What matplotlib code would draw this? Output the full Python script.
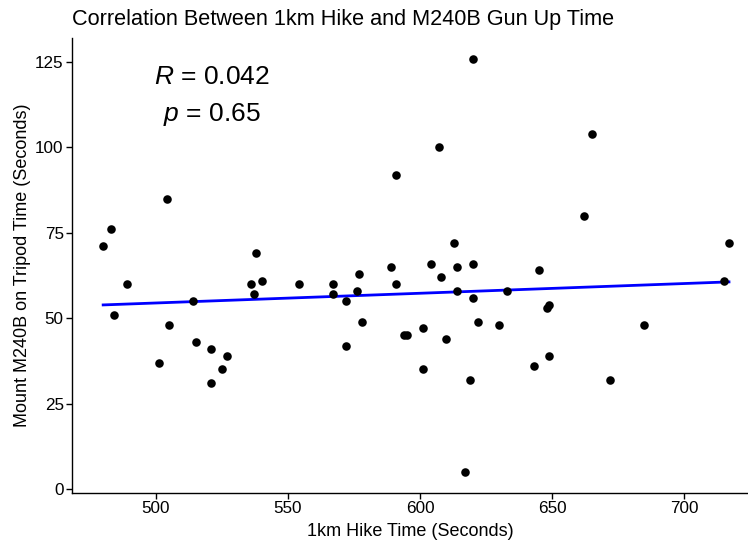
import numpy as np
import matplotlib
matplotlib.use("Agg")
import matplotlib.pyplot as plt

plt.rcParams['font.family'] = ['Liberation Sans', 'DejaVu Sans']
plt.rcParams['mathtext.fontset'] = 'custom'
plt.rcParams['mathtext.it'] = 'Liberation Sans:italic'
plt.rcParams['mathtext.rm'] = 'Liberation Sans'

# 1km hike time vs. time to mount M240B (seconds)
hike = [480, 483, 484, 489, 504, 505, 501, 514, 515, 521, 521, 525, 527,
        536, 537, 538, 540, 554, 567, 567, 572, 572, 576, 577, 578, 589,
        591, 591, 594, 595, 601, 601, 604, 607, 608, 610, 613, 614, 614,
        617, 619, 620, 620, 620, 622, 630, 633, 665, 662, 645, 648, 649,
        649, 643, 672, 685, 715, 717]
gun_up = [71, 76, 51, 60, 85, 48, 37, 55, 43, 41, 31, 35, 39,
          60, 57, 69, 61, 60, 60, 57, 55, 42, 58, 63, 49, 65,
          92, 60, 45, 45, 47, 35, 66, 100, 62, 44, 72, 65, 58,
          5, 32, 126, 66, 56, 49, 48, 58, 104, 80, 64, 53, 54,
          39, 36, 32, 48, 61, 72]
r_text = "$R$ = 0.042"
p_text = "$p$ = 0.65"

x = np.array(hike)
y = np.array(gun_up)

fig = plt.figure(figsize=(7.48, 5.41), dpi=100)
ax = fig.add_axes([72 / 748, 1 - 492.6 / 541, (748 - 72) / 748, (492.6 - 37.9) / 541])

ax.scatter(x, y, s=38, color='black', zorder=3, linewidths=0)

# linear fit
slope, icpt = np.polyfit(x, y, 1)
xs = np.array([x.min(), x.max()])
ax.plot(xs, slope * xs + icpt, color='blue', lw=2, zorder=2)

ax.text(521, 120.5, r_text, fontsize=19, ha='center', va='center')
ax.text(521, 109.5, p_text, fontsize=19, ha='center', va='center')

ax.set_xlim(468.2, 724.2)
ax.set_ylim(-1.05, 132.05)
ax.set_xticks([500, 550, 600, 650, 700])
ax.set_yticks([0, 25, 50, 75, 100, 125])

for s in ['top', 'right']:
    ax.spines[s].set_visible(False)
for s in ['left', 'bottom']:
    ax.spines[s].set_linewidth(1.0)
    ax.spines[s].set_color('black')
ax.tick_params(direction='out', length=4, width=1, labelsize=12.3, colors='black', pad=2)

ax.set_xlabel("1km Hike Time (Seconds)", fontsize=13, labelpad=5)
ax.set_ylabel("Mount M240B on Tripod Time (Seconds)", fontsize=13, labelpad=3)
ax.set_title("Correlation Between 1km Hike and M240B Gun Up Time",
             fontsize=15.6, loc='left', x=0, pad=9)

fig.savefig("out.png", dpi=100)
